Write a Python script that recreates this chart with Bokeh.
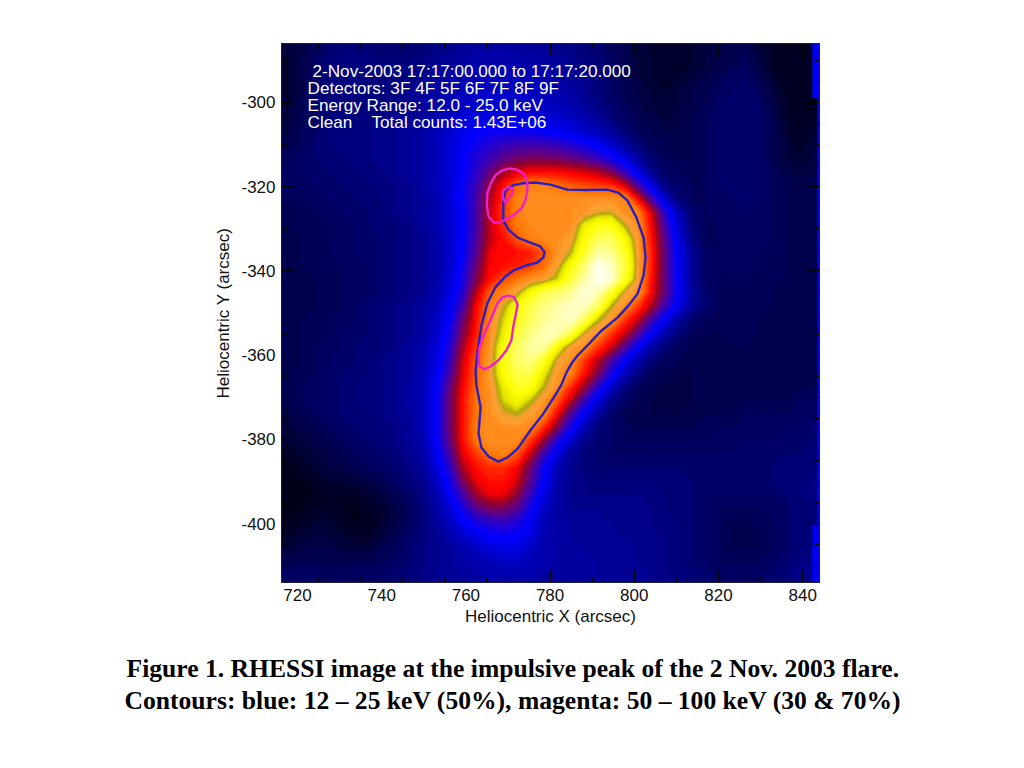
import numpy as np
from bokeh.embed import file_html
from bokeh.models import CustomJSTickFormatter, Label, LinearAxis, LinearColorMapper, Range1d, SingleIntervalTicker, Title
from bokeh.plotting import figure
from bokeh.resources import INLINE

# intensity (percent of colour scale), top row first
flare_rows = [
    [6,7,9,11,12,12,12,11,11,11,12,13,14,15,16,16,16,16,15,15,14,13,12,11,9,8,6,5,5,5,5,6,7,8,8,6,4,3,4,4],
    [5,7,10,12,13,13,13,12,12,12,13,14,15,16,17,17,17,17,16,16,15,14,13,12,10,8,6,5,5,5,5,6,7,8,9,7,4,3,4,4],
    [5,7,10,12,13,13,13,13,13,13,14,15,16,17,18,18,18,18,18,17,16,15,14,12,10,8,6,5,5,5,6,7,8,10,10,8,5,3,4,4],
    [5,7,10,12,13,13,13,13,13,14,15,16,17,18,19,19,19,19,19,18,17,16,14,12,10,8,7,6,5,6,7,8,9,10,11,9,6,4,4,4],
    [6,8,10,12,13,13,13,13,14,14,15,16,18,19,20,20,20,20,20,19,18,17,15,13,11,9,7,6,6,6,7,8,10,11,11,10,7,4,3,4],
    [6,8,10,12,13,13,13,13,14,15,15,17,19,21,22,22,22,22,22,21,20,19,17,15,12,10,8,7,6,7,8,9,10,11,11,10,8,5,3,4],
    [7,9,10,12,13,13,13,14,14,15,16,18,20,23,25,26,26,26,26,25,24,22,20,18,15,12,9,8,7,7,8,9,10,11,11,10,8,5,4,5],
    [8,9,11,12,13,13,13,14,14,15,16,18,21,24,27,29,31,32,32,32,31,29,27,24,20,16,12,9,8,8,8,9,10,11,11,10,8,6,4,6],
    [9,10,11,12,12,13,13,14,14,15,16,18,21,25,29,32,35,37,38,38,37,36,34,31,27,22,16,11,9,8,8,9,10,11,11,10,8,6,5,6],
    [10,10,11,11,12,12,13,13,14,15,16,18,21,25,30,36,41,44,46,46,46,45,44,42,38,31,22,14,10,9,9,9,10,11,11,10,9,7,6,7],
    [10,10,10,11,11,12,12,13,13,14,16,18,21,26,32,40,47,53,56,56,54,52,51,50,49,44,33,22,13,10,9,9,10,11,11,10,9,8,7,8],
    [9,9,10,10,11,11,12,12,13,14,15,17,21,26,33,42,49,56,58,58,58,58,58,58,58,57,46,33,20,12,9,9,10,10,11,10,9,8,7,8],
    [8,9,9,10,10,11,11,12,13,14,15,17,20,25,33,43,50,56,58,58,58,58,59,62,63,58,56,44,30,18,11,9,10,10,10,10,9,8,7,8],
    [8,9,9,9,10,10,11,12,12,13,15,17,20,25,33,43,49,55,57,58,58,58,68,74,74,64,58,46,33,20,12,9,9,10,10,10,9,8,7,8],
    [8,8,9,9,10,10,11,11,12,13,14,16,20,25,34,43,47,52,56,57,58,60,72,82,82,72,59,47,35,22,13,9,9,10,10,10,9,8,7,8],
    [8,8,9,9,10,10,11,11,12,13,14,16,20,26,35,45,47,47,48,52,58,64,76,90,88,76,60,48,36,24,15,10,9,10,10,9,9,8,8,8],
    [8,8,9,9,9,10,10,11,12,13,14,16,20,27,37,46,47,48,50,54,61,72,84,98,94,80,60,48,36,24,15,10,9,10,10,9,9,8,8,8],
    [8,8,8,9,9,10,10,11,12,13,14,16,21,28,39,47,51,55,58,60,66,78,90,99,96,76,60,47,36,24,15,10,9,9,9,9,9,8,8,8],
    [8,8,8,9,9,10,10,11,12,13,14,17,22,30,43,53,57,62,72,80,84,88,96,92,76,62,58,46,36,25,16,11,9,9,9,9,8,8,8,8],
    [8,8,8,9,9,10,11,12,13,14,15,18,24,33,46,55,63,72,80,86,90,94,94,82,64,58,50,42,32,23,15,11,9,9,9,9,8,8,8,8],
    [8,8,9,9,10,10,11,12,13,14,16,19,25,37,47,57,66,74,82,88,92,94,82,65,59,50,43,33,24,16,11,9,9,9,9,8,8,8,8,8],
    [8,8,9,9,10,11,11,12,13,14,16,20,27,39,48,58,68,78,86,92,92,80,63,58,50,44,35,25,17,12,9,8,8,9,9,8,8,8,8,8],
    [8,8,9,10,10,11,12,12,13,15,17,21,29,42,50,59,72,82,90,90,72,60,58,50,44,35,25,17,12,9,8,8,8,8,8,8,8,8,8,8],
    [8,8,9,10,11,11,12,13,14,15,17,22,31,44,52,60,73,84,86,76,62,58,50,43,34,25,17,12,9,8,8,8,8,8,8,8,8,8,8,8],
    [8,9,9,10,11,12,12,13,14,15,18,23,33,45,53,60,72,80,80,68,59,56,47,39,28,19,13,9,8,7,7,8,8,8,8,8,8,8,8,8],
    [8,9,10,10,11,12,13,13,14,16,18,24,36,46,54,59,68,76,74,64,58,49,41,30,20,13,9,8,7,7,7,8,8,8,8,8,8,8,8,8],
    [8,9,10,10,11,12,13,13,14,16,18,25,37,47,55,58,66,70,65,59,52,43,32,22,14,10,8,7,7,7,7,8,8,8,8,8,8,8,9,9],
    [7,8,9,10,11,12,12,13,14,15,18,25,37,47,55,58,62,64,60,57,46,34,24,16,11,8,8,7,7,7,8,8,8,8,9,9,9,9,10,10],
    [6,7,8,9,10,11,12,12,13,15,18,25,37,47,56,58,58,58,57,49,39,27,18,12,10,9,8,8,8,8,8,9,9,9,10,10,10,10,10,11],
    [5,6,7,8,9,10,11,12,13,15,17,25,36,47,55,58,58,57,50,40,29,20,14,11,10,9,9,9,9,9,9,9,10,10,10,10,10,11,11,11],
    [4,5,6,7,8,9,10,11,12,14,16,23,33,45,50,55,56,52,43,32,22,15,12,11,10,10,10,10,10,10,10,10,10,10,11,11,11,11,11,12],
    [3,4,5,6,7,8,9,10,11,13,15,21,30,42,47,49,49,46,37,26,18,14,12,11,11,11,11,11,11,11,11,11,11,11,11,11,11,12,12,12],
    [3,3,4,5,5,6,7,8,10,12,14,19,27,38,45,47,47,44,35,25,17,14,13,12,12,12,12,12,12,12,11,11,11,11,11,11,11,12,12,13],
    [3,3,3,4,4,4,5,6,8,10,13,17,24,33,41,45,45,40,31,22,16,14,13,13,13,13,13,13,12,12,11,10,10,10,10,10,10,11,12,13],
    [3,3,4,4,3,3,4,5,7,9,12,16,21,28,35,38,38,35,27,20,16,14,14,14,14,14,14,13,12,12,11,10,9,9,9,9,10,10,12,12],
    [3,4,5,5,4,3,3,5,7,9,12,15,19,24,28,30,31,29,24,18,16,15,15,15,14,14,14,13,13,12,11,10,9,8,8,9,9,10,12,12],
    [4,5,6,6,5,4,4,6,8,10,12,14,17,20,23,25,26,25,22,17,16,15,15,15,15,14,14,14,13,12,11,10,9,8,8,8,9,10,12,12],
    [6,7,7,7,6,6,6,8,9,11,13,14,15,17,19,21,22,22,19,17,16,16,15,15,15,15,14,14,13,12,11,10,9,8,8,8,9,10,12,12],
    [8,8,8,8,8,8,8,9,10,11,13,14,15,16,17,18,19,19,18,17,16,16,16,15,15,15,14,14,13,12,11,10,9,9,9,9,10,11,13,13],
    [10,10,10,9,10,10,10,10,11,12,13,14,15,15,16,17,17,17,17,16,16,16,16,15,15,15,15,14,13,13,12,11,10,10,10,10,11,12,14,14],
]

blue_x = [768.9,769.4,771.1,773.4,776.5,780.1,784.1,788.4,793.6,796.2,798.4,800.5,802.2,802.7,802.2,800.8,798.4,796.0,792.0,788.9,786.5,785.1,783.9,782.7,781.5,778.4,775.3,772.3,769.9,767.7,765.4,763.7,763.0,763.5,762.5,762.3,762.8,763.7,765.1,767.0,769.4,771.3,774.4,777.0,778.4,778.7,777.7,775.3,772.3,770.1,768.9,768.9,768.9]
blue_y = [-323.3,-320.9,-319.7,-319.2,-319.0,-319.5,-320.7,-320.8,-320.7,-321.4,-323.3,-327.3,-332.1,-336.8,-341.1,-345.4,-348.5,-351.1,-354.4,-357.7,-360.1,-362.0,-364.1,-367.0,-369.1,-373.9,-377.9,-382.2,-384.3,-385.3,-384.1,-382.0,-378.6,-372.4,-367.2,-363.7,-358.9,-353.0,-347.7,-343.9,-341.3,-339.9,-338.7,-338.0,-336.8,-335.6,-334.2,-333.3,-332.1,-330.2,-328.0,-325.7,-323.3]

mag_top_x = [770.1,772.0,773.7,774.6,774.6,774.2,773.4,771.8,769.9,768.0,766.6,765.4,765.0,765.1,765.9,767.0,768.5,770.1]
mag_top_y = [-315.7,-315.9,-316.9,-318.8,-320.9,-323.0,-324.9,-326.4,-327.6,-328.5,-328.5,-327.1,-324.5,-321.6,-319.2,-317.3,-316.2,-315.7]
mag_inner_x = [770.1,771.1,771.1,769.4,768.7,768.9,770.1]
mag_inner_y = [-320.0,-320.4,-321.6,-323.8,-322.6,-320.9,-320.0]
mag_low_x = [770.1,771.5,772.3,771.8,771.3,770.8,769.6,767.7,765.8,764.4,763.2,763.0,763.2,764.4,765.8,767.5,768.7,770.1]
mag_low_y = [-345.8,-346.3,-348.0,-350.6,-353.0,-356.5,-358.9,-361.3,-362.7,-363.4,-362.5,-360.6,-358.2,-354.9,-351.8,-347.7,-346.3,-345.8]

# blue no-data strips along the right edge
strip_left = [842.3, 842.3, 843.5]
strip_bottom = [-298.9, -414.0, -414.0]
strip_top = [-286.0, -400.5, -286.0]

x_tick_labels = {720: "720", 740: "740", 760: "760", 780: "780", 800: "800", 820: "820", 840: "840"}
y_tick_labels = {-300: "-300", -320: "-320", -340: "-340", -360: "-360", -380: "-380", -400: "-400"}

info_lines = ["2-Nov-2003 17:17:00.000 to 17:17:20.000",
              "Detectors: 3F 4F 5F 6F 7F 8F 9F",
              "Energy Range: 12.0 - 25.0 keV",
              "Clean",
              "Total counts: 1.43E+06"]
# label offsets from the frame's lower left corner
info_x = [31, 26, 26, 26, 90]
info_y = [512, 495, 478, 461, 461]

caption = ["Figure 1. RHESSI image at the impulsive peak of the 2 Nov. 2003 flare.",
           "Contours: blue: 12 \u2013 25 keV (50%), magenta: 50 \u2013 100 keV (30 & 70%)"]
caption_offset = [-155, -157]
caption_standoff = [0, 2]

# colour table, black-blue-red-orange-olive-yellow-white
stops = [0, 25, 31, 36, 41, 46, 54, 60, 62, 64, 67, 72, 100]
reds = [0, 0, 50, 100, 150, 255, 255, 255, 240, 176, 232, 255, 255]
greens = [0, 0, 0, 0, 0, 0, 112, 160, 160, 168, 232, 255, 255]
blues = [0, 255, 190, 130, 40, 0, 0, 48, 48, 16, 0, 0, 255]


def colours(values):
    return ["#%02x%02x%02x" % (int(r), int(g), int(b)) for r, g, b in zip(
        np.interp(values, stops, reds), np.interp(values, stops, greens), np.interp(values, stops, blues))]


x_lo, x_hi = 716.2, 844.0
y_lo, y_hi = -414.0, -286.0

z = np.array(flare_rows, dtype=float)[::-1]
nrows, ncols = z.shape
x_cells = x_lo + (np.arange(ncols) + 0.5) * (x_hi - x_lo) / ncols
y_cells = y_lo + (np.arange(nrows) + 0.5) * (y_hi - y_lo) / nrows

p = figure(width=1008, height=750, output_backend="svg", toolbar_location=None,
           x_range=Range1d(x_lo, x_hi), y_range=Range1d(y_lo, y_hi),
           x_axis_label="Heliocentric X (arcsec)", y_axis_label="Heliocentric Y (arcsec)",
           min_border_left=281, min_border_right=189, min_border_top=43, min_border_bottom=168)
p.grid.visible = False
p.outline_line_color = "#202030"

# coarse cells underneath fill the frame's edge, filled contours give the smooth ramp
levels = np.arange(0, 101)
p.image(image=[z], x=x_lo, y=y_lo, dw=x_hi - x_lo, dh=y_hi - y_lo,
        color_mapper=LinearColorMapper(palette=colours(np.linspace(0, 100, 256)), low=0, high=100))
p.contour(x_cells, y_cells, z, levels, fill_color=colours(levels[:-1] + 0.5), line_color=colours(levels), line_width=1)
p.quad(left=strip_left, right=x_hi, bottom=strip_bottom, top=strip_top, fill_color="#0000f0", line_color=None)

p.line(blue_x, blue_y, line_color="#2a1fc0", line_width=2.4)
for mx, my in [(mag_top_x, mag_top_y), (mag_inner_x, mag_inner_y), (mag_low_x, mag_low_y)]:
    p.line(mx, my, line_color="#f01fc8", line_width=2.4)


def style_axis(axis):
    axis.ticker = SingleIntervalTicker(interval=20, num_minor_ticks=4)
    axis.major_tick_in = 12
    axis.major_tick_out = 0
    axis.minor_tick_in = 5
    axis.minor_tick_out = 0
    axis.axis_line_color = "#202030"
    axis.major_tick_line_color = "#000000"
    axis.minor_tick_line_color = "#000000"


for ax in [p.xaxis[0], p.yaxis[0]]:
    style_axis(ax)
    ax.major_label_text_font = "Liberation Sans"
    ax.major_label_text_font_size = "17px"
    ax.major_label_text_color = "#111111"
    ax.axis_label_text_font = "Liberation Sans"
    ax.axis_label_text_font_size = "17px"
    ax.axis_label_text_font_style = "normal"
    ax.axis_label_text_color = "#111111"
p.xaxis[0].major_label_overrides = x_tick_labels
p.yaxis[0].major_label_overrides = y_tick_labels
p.xaxis[0].major_label_standoff = 6
p.xaxis[0].axis_label_standoff = 3
p.yaxis[0].major_label_standoff = 6
p.yaxis[0].axis_label_standoff = 5
p.yaxis[0].major_label_orientation = "horizontal"

for side in ["above", "right"]:
    extra = LinearAxis(formatter=CustomJSTickFormatter(code="return ''"))
    style_axis(extra)
    extra.major_label_standoff = 0
    p.add_layout(extra, side)

# empty axis, only pushes the caption down from the x label
spacer = LinearAxis(formatter=CustomJSTickFormatter(code="return ''"), axis_line_color=None,
                    major_tick_line_color=None, minor_tick_line_color=None, major_tick_in=0, major_tick_out=23)
p.add_layout(spacer, "below")

for text, tx, ty in zip(info_lines, info_x, info_y):
    p.add_layout(Label(x=tx, y=ty, x_units="screen", y_units="screen", text=text, text_color="white",
                       text_font="Liberation Sans", text_font_size="17.15px", text_baseline="middle"))

for text, off, gap in zip(caption, caption_offset, caption_standoff):
    p.add_layout(Title(text=text, align="left", offset=off, standoff=gap, text_color="black",
                       text_font="Liberation Serif", text_font_style="bold", text_font_size="25.6px"), "below")

open("out.html", "w").write(file_html(p, INLINE))
